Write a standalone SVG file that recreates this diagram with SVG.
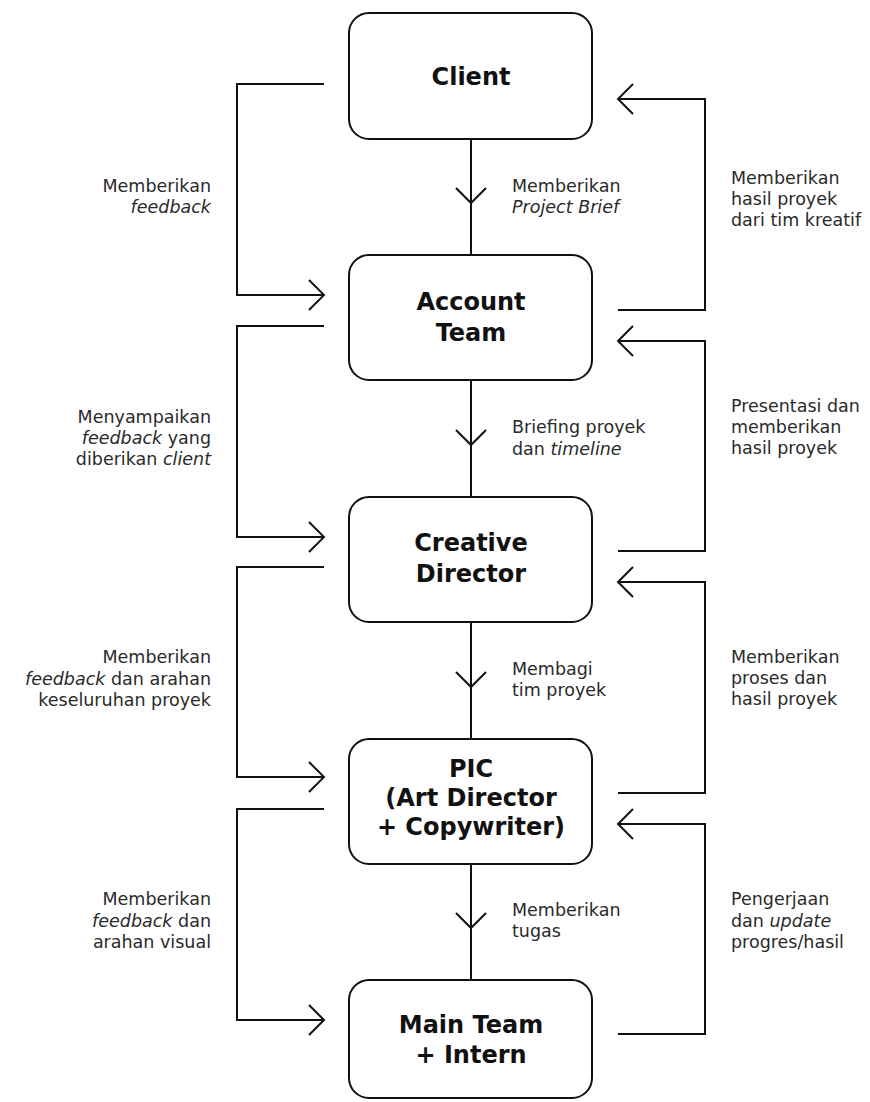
<svg xmlns="http://www.w3.org/2000/svg" width="870" height="1102" viewBox="0 0 870 1102">
<style>
.box{fill:#fff;stroke:#111;stroke-width:2}
.ln{fill:none;stroke:#111;stroke-width:2}
.t{font-family:"DejaVu Sans",sans-serif;font-weight:700;font-size:24px;fill:#111;text-anchor:middle}
.l{font-family:"DejaVu Sans",sans-serif;font-size:17.5px;fill:#2a2a2a}
.e{text-anchor:end}
.i{font-style:italic}
</style>
<rect width="870" height="1102" fill="#fff"/>
<g id="connectors">
<path class="ln" d="M471,139 V255 M456,188 L471,203 L486,188"/>
<path class="ln" d="M471,380 V497 M456,430 L471,445 L486,430"/>
<path class="ln" d="M471,622 V739 M456,672 L471,687 L486,672"/>
<path class="ln" d="M471,864 V980 M456,913 L471,928 L486,913"/>
<path class="ln" d="M324,84 H237 V295 H324 M309,280 L324,295 L309,310"/>
<path class="ln" d="M324,326 H237 V537 H324 M309,522 L324,537 L309,552"/>
<path class="ln" d="M324,567 H237 V777 H324 M309,762 L324,777 L309,792"/>
<path class="ln" d="M324,809 H237 V1020 H324 M309,1005 L324,1020 L309,1035"/>
<path class="ln" d="M618,310 H705 V99 H618 M633,84 L618,99 L633,114"/>
<path class="ln" d="M618,551 H705 V341 H618 M633,326 L618,341 L633,356"/>
<path class="ln" d="M618,793 H705 V582 H618 M633,567 L618,582 L633,597"/>
<path class="ln" d="M618,1034 H705 V824 H618 M633,809 L618,824 L633,839"/>
<text class="l" x="512" y="192">Memberikan</text>
<text class="l i" x="512" y="213">Project Brief</text>
<text class="l" x="512" y="433">Briefing proyek</text>
<text class="l" x="512" y="455">dan <tspan class="i">timeline</tspan></text>
<text class="l" x="512" y="675">Membagi</text>
<text class="l" x="512" y="696">tim proyek</text>
<text class="l" x="512" y="916">Memberikan</text>
<text class="l" x="512" y="937">tugas</text>
<text class="l e" x="211" y="192">Memberikan</text>
<text class="l e i" x="211" y="213">feedback</text>
<text class="l e" x="211" y="423">Menyampaikan</text>
<text class="l e" x="211" y="444"><tspan class="i">feedback</tspan> yang</text>
<text class="l e" x="211" y="465">diberikan <tspan class="i">client</tspan></text>
<text class="l e" x="211" y="663">Memberikan</text>
<text class="l e" x="211" y="685"><tspan class="i">feedback</tspan> dan arahan</text>
<text class="l e" x="211" y="706">keseluruhan proyek</text>
<text class="l e" x="211" y="905">Memberikan</text>
<text class="l e" x="211" y="927"><tspan class="i">feedback</tspan> dan</text>
<text class="l e" x="211" y="948">arahan visual</text>
<text class="l" x="731" y="184">Memberikan</text>
<text class="l" x="731" y="205">hasil proyek</text>
<text class="l" x="731" y="226">dari tim kreatif</text>
<text class="l" x="731" y="412">Presentasi dan</text>
<text class="l" x="731" y="433">memberikan</text>
<text class="l" x="731" y="454">hasil proyek</text>
<text class="l" x="731" y="663">Memberikan</text>
<text class="l" x="731" y="684">proses dan</text>
<text class="l" x="731" y="705">hasil proyek</text>
<text class="l" x="731" y="905">Pengerjaan</text>
<text class="l" x="731" y="927">dan <tspan class="i">update</tspan></text>
<text class="l" x="731" y="948">progres/hasil</text>
</g>
<g id="client">
<rect class="box" x="349" y="13" width="243" height="126" rx="20"/>
<text class="t" x="471" y="85">Client</text>
</g>
<g id="account-team">
<rect class="box" x="349" y="255" width="243" height="125" rx="20"/>
<text class="t" x="471" y="310">Account</text>
<text class="t" x="471" y="341">Team</text>
</g>
<g id="creative-director">
<rect class="box" x="349" y="497" width="243" height="125" rx="20"/>
<text class="t" x="471" y="551">Creative</text>
<text class="t" x="471" y="582">Director</text>
</g>
<g id="pic">
<rect class="box" x="349" y="739" width="243" height="125" rx="20"/>
<text class="t" x="471" y="777">PIC</text>
<text class="t" x="471" y="806">(Art Director</text>
<text class="t" x="471" y="835">+ Copywriter)</text>
</g>
<g id="main-team">
<rect class="box" x="349" y="980" width="243" height="118" rx="20"/>
<text class="t" x="471" y="1033">Main Team</text>
<text class="t" x="471" y="1063">+ Intern</text>
</g>
</svg>
